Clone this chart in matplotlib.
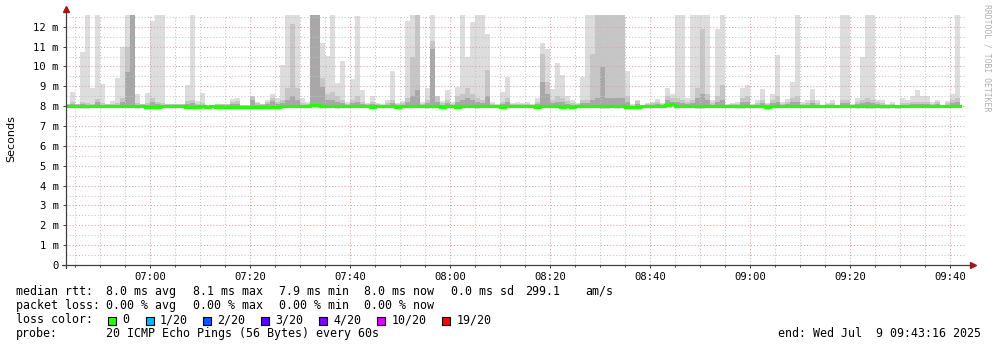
import matplotlib
matplotlib.use("Agg")
import matplotlib.pyplot as plt
import matplotlib.dates as mdates
from matplotlib.patches import Rectangle
from matplotlib.ticker import MultipleLocator, FixedLocator, FixedFormatter
import numpy as np
import pandas as pd

# ---------------- data ----------------
start_time = pd.Timestamp("2025-07-09 06:43:16")
end_time = pd.Timestamp("2025-07-09 09:43:16")
first_full_minute = "2025-07-09 06:44:00"

# smoke: highest ping per minute (ms)
rtt_max = [8.1,
    8.71, 8.1, 10.75, 12.6, 8.9, 12.6, 9.1, 8.1, 8.25, 9.4,
    11.0, 12.6, 12.6, 8.6, 8.1, 8.66, 12.3, 12.6, 12.6, 8.1,
    8.1, 8.1, 8.1, 9.05, 12.6, 8.25, 8.66, 8.05, 8.05, 8.1,
    8.1, 8.1, 8.34, 8.4, 8.05, 8.05, 8.5, 8.2, 8.1, 8.3,
    8.62, 8.4, 10.05, 12.6, 12.6, 12.6, 8.4, 8.2, 12.6, 12.6,
    11.2, 10.55, 12.6, 9.16, 10.25, 8.2, 9.38, 12.55, 8.8, 8.15,
    8.5, 8.15, 8.1, 8.3, 9.75, 8.15, 8.25, 12.3, 12.6, 12.6,
    8.2, 8.9, 12.6, 8.25, 8.25, 8.8, 8.2, 8.96, 12.6, 10.5,
    12.26, 12.6, 12.6, 11.64, 8.2, 8.1, 8.7, 9.46, 8.15, 8.2,
    8.15, 8.2, 8.1, 8.4, 11.17, 10.9, 8.84, 10.17, 9.55, 8.5,
    8.3, 8.15, 9.46, 12.6, 12.6, 12.6, 12.6, 12.6, 12.6, 12.6,
    12.6, 9.75, 8.1, 8.3, 8.05, 8.15, 8.2, 8.35, 8.15, 8.92,
    8.6, 12.6, 12.6, 8.4, 12.6, 12.6, 12.6, 12.6, 8.3, 11.86,
    12.6, 8.1, 8.15, 8.2, 8.9, 9.05, 8.1, 8.3, 8.85, 8.15,
    8.6, 10.6, 8.2, 8.35, 9.2, 12.6, 8.2, 8.3, 8.85, 8.3,
    8.05, 8.15, 8.3, 8.05, 12.6, 12.6, 8.1, 8.4, 10.47, 12.6,
    12.6, 8.3, 8.3, 8.1, 8.2, 8.05, 8.4, 8.3, 8.5, 8.8,
    8.5, 8.5, 8.2, 8.3, 8.05, 8.25, 8.6, 12.6]

# smoke: upper quartile band
rtt_mid = [8.1,
    8.2, 8.12, 8.2, 8.15, 8.12, 8.35, 8.15, 8.1, 8.12, 8.15,
    8.4, 11.0, 12.6, 8.15, 8.1, 8.15, 8.4, 8.2, 8.15, 8.1,
    8.1, 8.12, 8.1, 8.25, 8.3, 8.12, 8.15, 8.05, 8.05, 8.1,
    8.1, 8.1, 8.2, 8.25, 8.05, 8.05, 8.5, 8.15, 8.1, 8.2,
    8.4, 8.2, 8.3, 8.9, 12.15, 8.9, 8.15, 8.1, 12.6, 12.6,
    9.4, 8.6, 8.7, 8.5, 8.3, 8.1, 8.3, 8.5, 8.2, 8.1,
    8.2, 8.1, 8.05, 8.15, 8.3, 8.1, 8.15, 8.4, 10.5, 12.6,
    8.1, 8.3, 11.3, 8.5, 8.15, 8.3, 8.1, 8.5, 8.6, 8.9,
    8.6, 8.4, 8.3, 9.8, 8.1, 8.05, 8.2, 8.4, 8.1, 8.1,
    8.1, 8.1, 8.05, 8.2, 10.65, 9.2, 8.3, 8.5, 8.4, 8.25,
    8.15, 8.1, 8.3, 8.3, 10.65, 12.6, 12.6, 12.6, 12.6, 12.6,
    12.6, 8.5, 8.05, 8.25, 8.05, 8.1, 8.15, 8.2, 8.1, 8.5,
    8.4, 8.4, 8.3, 8.2, 8.3, 8.9, 11.86, 8.6, 8.15, 8.5,
    9.05, 8.05, 8.1, 8.1, 8.4, 8.5, 8.05, 8.15, 8.3, 8.1,
    8.3, 8.5, 8.1, 8.2, 8.4, 8.5, 8.1, 8.15, 8.3, 8.15,
    8.05, 8.1, 8.15, 8.05, 8.3, 8.3, 8.05, 8.2, 8.3, 8.4,
    8.3, 8.2, 8.15, 8.05, 8.1, 8.05, 8.15, 8.15, 8.2, 8.2,
    8.2, 8.2, 8.1, 8.2, 8.05, 8.15, 8.3, 8.4]

# smoke: inner band
rtt_inner = [8.05,
    8.1, 8.05, 8.1, 8.08, 8.05, 8.2, 8.08, 8.05, 8.05, 8.08,
    8.2, 9.7, 12.6, 8.08, 8.05, 8.05, 8.2, 8.1, 8.08, 8.05,
    8.05, 8.05, 8.05, 8.1, 8.15, 8.05, 8.08, 8.02, 8.02, 8.05,
    8.05, 8.05, 8.1, 8.1, 8.02, 8.02, 8.3, 8.08, 8.05, 8.1,
    8.25, 8.1, 8.15, 8.3, 8.5, 8.3, 8.08, 8.05, 12.6, 12.6,
    8.95, 8.3, 8.3, 8.2, 8.15, 8.05, 8.15, 8.2, 8.1, 8.05,
    8.1, 8.05, 8.02, 8.08, 8.15, 8.05, 8.08, 8.2, 8.5, 8.8,
    8.05, 8.15, 10.9, 8.2, 8.08, 8.15, 8.05, 8.2, 8.3, 8.4,
    8.3, 8.2, 8.15, 8.5, 8.05, 8.02, 8.1, 8.2, 8.05, 8.05,
    8.05, 8.05, 8.02, 8.1, 9.2, 8.6, 8.15, 8.2, 8.2, 8.1,
    8.08, 8.05, 8.15, 8.15, 8.3, 8.4, 9.95, 8.4, 8.4, 8.4,
    8.4, 8.2, 8.02, 8.1, 8.02, 8.05, 8.08, 8.1, 8.05, 8.3,
    8.2, 8.2, 8.15, 8.1, 8.15, 8.4, 8.6, 8.3, 8.08, 8.2,
    8.3, 8.02, 8.05, 8.05, 8.2, 8.2, 8.02, 8.08, 8.15, 8.05,
    8.15, 8.2, 8.05, 8.1, 8.2, 8.2, 8.05, 8.08, 8.15, 8.08,
    8.02, 8.05, 8.08, 8.02, 8.15, 8.15, 8.02, 8.1, 8.15, 8.2,
    8.15, 8.1, 8.08, 8.02, 8.05, 8.02, 8.08, 8.08, 8.1, 8.1,
    8.1, 8.1, 8.05, 8.1, 8.02, 8.08, 8.15, 8.2]

# smoke: lowest ping per minute
rtt_min = [7.93,
    7.92, 7.93, 7.84, 7.85, 7.92, 7.9, 7.93, 7.92, 7.93, 7.9,
    7.92, 7.9, 7.92, 7.88, 7.92, 7.9, 7.88, 7.88, 7.9, 7.92,
    7.92, 7.9, 7.92, 7.88, 7.86, 7.9, 7.88, 7.9, 7.92, 7.88,
    7.9, 7.88, 7.88, 7.9, 7.85, 7.85, 7.9, 7.87, 7.84, 7.88,
    7.9, 7.9, 7.92, 7.9, 7.92, 7.9, 7.92, 7.92, 7.95, 7.95,
    7.92, 7.9, 7.92, 7.86, 7.9, 7.92, 7.9, 7.92, 7.92, 7.9,
    7.88, 7.9, 7.9, 7.92, 7.9, 7.88, 7.92, 7.9, 7.9, 7.92,
    7.92, 7.86, 7.9, 7.92, 7.88, 7.9, 7.92, 7.85, 7.86, 7.9,
    7.9, 7.88, 7.92, 7.9, 7.92, 7.9, 7.86, 7.9, 7.92, 7.92,
    7.9, 7.92, 7.9, 7.88, 7.92, 7.92, 7.9, 7.9, 7.88, 7.92,
    7.88, 7.9, 7.92, 7.9, 7.9, 7.92, 7.88, 7.85, 7.9, 7.88,
    7.9, 7.88, 7.88, 7.85, 7.9, 7.9, 7.92, 7.92, 7.92, 7.95,
    7.95, 7.92, 7.92, 7.9, 7.9, 7.88, 7.88, 7.9, 7.9, 7.9,
    7.9, 7.92, 7.9, 7.88, 7.86, 7.9, 7.92, 7.92, 7.92, 7.88,
    7.9, 7.9, 7.92, 7.92, 7.9, 7.9, 7.92, 7.92, 7.9, 7.9,
    7.92, 7.92, 7.9, 7.92, 7.9, 7.9, 7.92, 7.88, 7.9, 7.88,
    7.86, 7.9, 7.88, 7.86, 7.9, 7.85, 7.9, 7.9, 7.9, 7.92,
    7.9, 7.92, 7.9, 7.92, 7.9, 7.92, 7.9, 7.92]

# median rtt
rtt_median = [8.0,
    8.0, 8.01, 8.0, 8.0, 7.99, 8.0, 8.02, 8.0, 8.0, 7.99,
    8.0, 8.01, 8.0, 8.02, 8.0, 7.97, 7.97, 7.98, 8.0, 8.0,
    8.0, 7.99, 8.0, 7.98, 7.97, 7.98, 8.0, 7.98, 7.99, 7.97,
    7.98, 7.97, 7.98, 7.98, 7.96, 7.96, 7.98, 7.96, 7.95, 7.96,
    7.98, 7.98, 8.0, 8.0, 8.03, 8.03, 8.02, 8.0, 8.05, 8.05,
    8.03, 8.02, 8.0, 8.0, 7.99, 8.0, 8.01, 8.0, 8.02, 8.0,
    7.98, 8.0, 7.99, 8.0, 8.0, 7.98, 8.0, 8.01, 8.0, 8.02,
    8.02, 7.99, 8.0, 8.01, 7.98, 8.0, 8.0, 7.97, 7.99, 8.0,
    8.01, 8.0, 8.02, 7.99, 8.0, 8.0, 7.98, 8.0, 8.01, 8.0,
    7.99, 8.0, 8.0, 7.98, 8.0, 8.02, 8.0, 7.99, 7.98, 8.0,
    7.98, 7.99, 8.0, 8.0, 8.0, 8.02, 8.0, 8.0, 8.02, 7.99,
    8.0, 7.97, 7.98, 7.98, 7.99, 8.0, 8.0, 8.02, 8.02, 8.08,
    8.1, 8.03, 8.03, 8.0, 8.0, 8.0, 8.0, 8.01, 7.99, 8.0,
    8.0, 8.0, 8.0, 7.99, 8.0, 8.0, 8.01, 8.03, 8.03, 7.98,
    7.99, 8.0, 8.0, 8.01, 8.0, 7.99, 8.0, 8.02, 8.02, 8.0,
    8.01, 8.02, 8.0, 8.0, 8.0, 8.0, 8.0, 7.99, 8.0, 8.0,
    8.0, 8.0, 8.0, 7.99, 8.0, 8.0, 8.0, 8.0, 8.01, 8.02,
    8.01, 8.0, 8.0, 8.0, 8.0, 8.01, 8.0, 8.0]

y_ticks = [0, 1, 2, 3, 4, 5, 6, 7, 8, 9, 10, 11, 12]
y_labels = ["0", "1 m", "2 m", "3 m", "4 m", "5 m", "6 m", "7 m", "8 m",
            "9 m", "10 m", "11 m", "12 m"]

rtt_stats = ["8.0 ms avg", "8.1 ms max", "7.9 ms min", "8.0 ms now", "0.0 ms sd"]
rtt_extra = ["299.1", "am/s"]
loss_stats = ["0.00 % avg", "0.00 % max", "0.00 % min", "0.00 % now"]
loss_labels = ["0", "1/20", "2/20", "3/20", "4/20", "10/20", "19/20"]
loss_colors = ["#26ff00", "#00b8ff", "#0059ff", "#5e00ff", "#7e00ff", "#dd00ff", "#ff0000"]
probe_text = "20 ICMP Echo Pings (56 Bytes) every 60s"
end_text = "end: Wed Jul  9 09:43:16 2025"

n = len(rtt_max)
assert all(len(a) == n for a in [rtt_mid, rtt_inner, rtt_min, rtt_median]), \
    [len(a) for a in [rtt_max, rtt_mid, rtt_inner, rtt_min, rtt_median]]

# ---------------- figure ----------------
W, H = 997, 347
fig = plt.figure(figsize=(W / 100, H / 100), dpi=100)
fig.patch.set_facecolor("white")

ax_left, ax_right = 66.33, 966.33
ax_top, ax_bot = 14.8, 265.0
ax = fig.add_axes([ax_left / W, 1 - ax_bot / H, (ax_right - ax_left) / W, (ax_bot - ax_top) / H])
ax.set_facecolor("white")

edges = pd.DatetimeIndex([start_time]).append(
    pd.date_range(first_full_minute, periods=n, freq="min")).to_pydatetime()


def stepy(a):
    a = np.asarray(a, dtype=float)
    return np.append(a, a[-1])


med = stepy(rtt_median)
ax.fill_between(edges, stepy(rtt_min), stepy(rtt_max), step="post",
                color="#dddddd", lw=0, zorder=1)
ax.fill_between(edges, med - 0.05, stepy(rtt_mid), step="post",
                color="#c6c6c6", lw=0, zorder=1.2)
ax.fill_between(edges, med - 0.04, stepy(rtt_inner), step="post",
                color="#a8a8a8", lw=0, zorder=1.4)
ax.step(edges, med, where="post", color="#22ff00", lw=2.3, zorder=4,
        solid_joinstyle="miter")

ax.set_xlim(start_time.to_pydatetime(), end_time.to_pydatetime())
ax.set_ylim(0, 12.6)

mono = "DejaVu Sans Mono"
ax.xaxis.set_major_locator(mdates.MinuteLocator(byminute=[0, 20, 40]))
ax.xaxis.set_minor_locator(mdates.MinuteLocator(byminute=list(range(0, 60, 5))))
ax.xaxis.set_major_formatter(mdates.DateFormatter("%H:%M"))
ax.yaxis.set_major_locator(FixedLocator(y_ticks))
ax.yaxis.set_major_formatter(FixedFormatter(y_labels))
ax.yaxis.set_minor_locator(MultipleLocator(0.5))

ax.set_axisbelow(False)
ax.grid(which="major", color="#e0a0a0", ls=(0, (1, 2)), lw=0.75, zorder=2.5)
ax.grid(which="minor", color="#c4c4c4", ls=(0, (1, 2)), lw=0.75, zorder=2.5)

for s in ax.spines.values():
    s.set_visible(False)

ax.tick_params(axis="both", which="major", labelsize=7.6, colors="#404040",
               labelcolor="black", width=0.72)
ax.tick_params(axis="y", which="major", length=2.5, pad=3)
ax.tick_params(axis="y", which="minor", length=0)
ax.tick_params(axis="x", which="major", length=2.2, pad=3)
ax.tick_params(axis="x", which="minor", length=1.6, width=0.72, colors="#404040")
for lab in ax.get_xticklabels() + ax.get_yticklabels():
    lab.set_family(mono)

# axis lines with arrows
ax.plot([-0.005, 1.006], [0, 0], transform=ax.transAxes, color="#404040",
        lw=0.9, clip_on=False, zorder=6)
ax.plot([0, 0], [-0.01, 1.022], transform=ax.transAxes, color="#404040",
        lw=0.9, clip_on=False, zorder=6)
ax.plot([1.007], [0], marker=">", ms=4, color="#a01818", mec="#a01818",
        transform=ax.transAxes, clip_on=False, zorder=7)
ax.plot([0], [1.024], marker="^", ms=4, color="#a01818", mec="#a01818",
        transform=ax.transAxes, clip_on=False, zorder=7)

# labels
fig.text(11 / W, 1 - 139 / H, "Seconds", rotation=90, ha="center", va="center",
         fontsize=8, family="DejaVu Sans", color="black")
fig.text(987 / W, 1 - 4 / H, "RRDTOOL / TOBI OETIKER", rotation=270,
         ha="center", va="top", fontsize=5.9, family=mono, color="#b0b0b0")

LFS = 8.4


def ftxt(x, y, s, ha="left"):
    fig.text(x / W, 1 - y / H, s, fontsize=LFS, family=mono, ha=ha,
             va="baseline", color="black")


col2 = [106.5, 192.5, 278.5, 364.2, 451.0]
ftxt(16, 295, "median rtt:")
for x, s in zip(col2, rtt_stats):
    ftxt(x, 295, s)
ftxt(525.2, 295, rtt_extra[0])
ftxt(585.5, 295, rtt_extra[1])

ftxt(16, 309, "packet loss:")
for x, s in zip(col2, loss_stats):
    ftxt(x, 309, s)

ftxt(16, 323.3, "loss color:")
sq_x = [108.3, 146.0, 203.3, 261.0, 319.3, 376.7, 441.7]
lab_x = [122.5, 159.3, 217.5, 275.3, 333.5, 392.0, 457.0]
for sx, lx, lab, c in zip(sq_x, lab_x, loss_labels, loss_colors):
    fig.patches.append(Rectangle((sx / W, 1 - 324.5 / H), 8 / W, 8 / H,
                                 transform=fig.transFigure, facecolor=c,
                                 edgecolor="black", lw=0.8))
    ftxt(lx, 323.3, lab)

ftxt(16, 337.3, "probe:")
ftxt(106.5, 337.3, probe_text)
ftxt(981, 337.3, end_text, ha="right")

fig.savefig("out.png", dpi=100, facecolor="white")
